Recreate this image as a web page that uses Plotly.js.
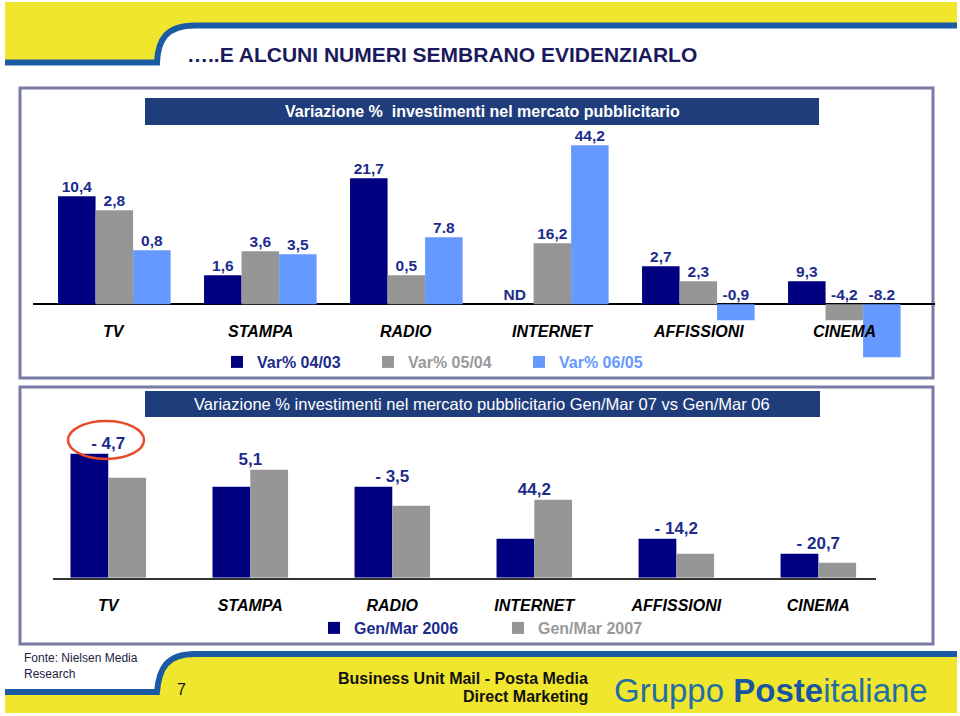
<!DOCTYPE html>
<html>
<head>
<meta charset="utf-8">
<script src="https://cdn.plot.ly/plotly-3.0.1.min.js"></script>
<style>
html,body{margin:0;padding:0;background:#fff;}
#chart{width:960px;height:716px;}
</style>
</head>
<body>
<div id="chart"></div>
<script>
// ---------- DATA ----------
const categories = ['TV', 'STAMPA', 'RADIO', 'INTERNET', 'AFFISSIONI', 'CINEMA'];

// Top chart: bar heights as drawn in the slide (relative units), and their printed labels
const topSeriesNames = ['Var% 04/03', 'Var% 05/04', 'Var% 06/05'];
const var0403 = [10.8, 2.9, 12.6, 0, 3.8, 2.3];
const var0504 = [9.4, 5.3, 2.9, 6.1, 2.3, -1.6];
const var0605 = [5.4, 5.0, 6.7, 15.9, -1.6, -5.3];
const lbl0403 = ['10,4', '1,6', '21,7', 'ND', '2,7', '9,3'];
const lbl0504 = ['2,8', '3,6', '0,5', '16,2', '2,3', '-4,2'];
const lbl0605 = ['0,8', '3,5', '7.8', '44,2', '-0,9', '-8.2'];

// Bottom chart: bar heights as drawn (relative units) and the printed % change
const bottomSeriesNames = ['Gen/Mar 2006', 'Gen/Mar 2007'];
const gm2006 = [12.4, 9.1, 9.1, 3.9, 3.9, 2.4];
const gm2007 = [10.0, 10.8, 7.2, 7.8, 2.4, 1.5];
const varLabels = ['- 4,7', '5,1', '- 3,5', '44,2', '- 14,2', '- 20,7'];

// ---------- STYLE ----------
const W = 960, H = 716;
const px = x => x / W;
const py = y => 1 - y / H;
const FONT = 'Liberation Sans, Arial, sans-serif';
const NAVY = '#000080', GRAY = '#969696', LIGHT = '#6699ff';
const LABEL = '#1c2c8c';
const YELLOW = '#f1e62e', BLUE = '#1b5ba3';

const topColors = [NAVY, GRAY, LIGHT];
const topTextColors = [LABEL, '#999999', LIGHT];
const topVals = [var0403, var0504, var0605];
const topLbls = [lbl0403, lbl0504, lbl0605];
const wTop = 0.257;

const traces = [];
topVals.forEach((vals, j) => {
  const xs = categories.map((c, i) => i + (j - 1) * wTop);
  traces.push({
    type: 'bar', x: xs, y: vals, width: wTop,
    marker: {color: topColors[j]},
    name: '<span style="color:' + topTextColors[j] + '">' + topSeriesNames[j] + '</span>',
    xaxis: 'x', yaxis: 'y', legend: 'legend', hoverinfo: 'skip'
  });
});
topVals.forEach((vals, j) => {
  const xs = categories.map((c, i) => i + (j - 1) * wTop);
  traces.push({
    type: 'scatter', mode: 'text', x: xs, y: vals.map(v => Math.max(v, 0)),
    text: topLbls[j], textposition: 'top center',
    textfont: {family: FONT, size: 15.5, color: LABEL, weight: 'bold'},
    cliponaxis: false, showlegend: false, hoverinfo: 'skip',
    xaxis: 'x', yaxis: 'y'
  });
});

const wBot = 0.266;
const botVals = [gm2006, gm2007];
const botColors = [NAVY, GRAY];
const botTextColors = [LABEL, '#999999'];
botVals.forEach((vals, j) => {
  const xs = categories.map((c, i) => i + (j - 0.5) * wBot);
  traces.push({
    type: 'bar', x: xs, y: vals, width: wBot,
    marker: {color: botColors[j]},
    name: '<span style="color:' + botTextColors[j] + '">' + bottomSeriesNames[j] + '</span>',
    xaxis: 'x2', yaxis: 'y2', legend: 'legend2', hoverinfo: 'skip'
  });
});
traces.push({
  type: 'scatter', mode: 'text', x: categories.map((c, i) => i),
  y: gm2006.map((v, i) => Math.max(v, gm2007[i])),
  text: varLabels, textposition: 'top center',
  textfont: {family: FONT, size: 17, color: LABEL, weight: 'bold'},
  cliponaxis: false, showlegend: false, hoverinfo: 'skip',
  xaxis: 'x2', yaxis: 'y2'
});

// ---------- DECORATION ----------
function path(pts) { // pixel coords -> paper coords
  return pts.replace(/(-?\d+(?:\.\d+)?),(-?\d+(?:\.\d+)?)/g,
    (m, a, b) => px(+a).toFixed(5) + ',' + py(+b).toFixed(5));
}
const shapes = [
  // header
  {type: 'path', xref: 'paper', yref: 'paper', layer: 'below',
   path: path('M5,2 L957,2 L957,23 L195,23 C166,23 158,38 157,61 L5,61 Z'),
   fillcolor: YELLOW, line: {width: 0}},
  {type: 'path', xref: 'paper', yref: 'paper', layer: 'below',
   path: path('M5,62.5 L157,62.5 C158,40 166,25.5 195,25.5 L957,25.5'),
   fillcolor: 'rgba(0,0,0,0)', line: {color: BLUE, width: 6}},
  // footer
  {type: 'path', xref: 'paper', yref: 'paper', layer: 'below',
   path: path('M5,713 L5,692 L157,692 C159,668 167,654 195,654 L957,654 L957,713 Z'),
   fillcolor: YELLOW, line: {width: 0}},
  {type: 'path', xref: 'paper', yref: 'paper', layer: 'below',
   path: path('M5,692 L157,692 C159,668 167,654 195,654 L957,654'),
   fillcolor: 'rgba(0,0,0,0)', line: {color: BLUE, width: 6}},
  // frames
  {type: 'rect', xref: 'paper', yref: 'paper', layer: 'below',
   x0: px(20), x1: px(933), y0: py(88), y1: py(378),
   line: {color: '#7a7aa6', width: 3}, fillcolor: 'rgba(0,0,0,0)'},
  {type: 'rect', xref: 'paper', yref: 'paper', layer: 'below',
   x0: px(20), x1: px(933), y0: py(387), y1: py(644),
   line: {color: '#7a7aa6', width: 3}, fillcolor: 'rgba(0,0,0,0)'},
  // banners
  {type: 'rect', xref: 'paper', yref: 'paper', layer: 'below',
   x0: px(145), x1: px(819), y0: py(98), y1: py(125),
   line: {width: 0}, fillcolor: '#1f3d7b'},
  {type: 'rect', xref: 'paper', yref: 'paper', layer: 'below',
   x0: px(145), x1: px(820), y0: py(391), y1: py(417),
   line: {width: 0}, fillcolor: '#1f3d7b'},
  // red highlight ellipse
  {type: 'circle', xref: 'paper', yref: 'paper', layer: 'above',
   x0: px(68), x1: px(144), y0: py(421), y1: py(459),
   line: {color: '#e84a2a', width: 2.5}, fillcolor: 'rgba(0,0,0,0)'}
];

const annotations = [
  {xref: 'paper', yref: 'paper', x: px(185), y: py(54), xanchor: 'left', yanchor: 'middle',
   text: '<b>…..E ALCUNI NUMERI SEMBRANO EVIDENZIARLO</b>', showarrow: false,
   font: {family: FONT, size: 21, color: '#1a1a5c'}},
  {xref: 'paper', yref: 'paper', x: px(482), y: py(111.5), xanchor: 'center', yanchor: 'middle',
   text: '<b>Variazione %  investimenti nel mercato pubblicitario</b>', showarrow: false,
   font: {family: FONT, size: 16, color: '#ffffff'}},
  {xref: 'paper', yref: 'paper', x: px(482), y: py(404), xanchor: 'center', yanchor: 'middle',
   text: 'Variazione % investimenti nel mercato pubblicitario Gen/Mar 07 vs Gen/Mar 06', showarrow: false,
   font: {family: FONT, size: 16.5, color: '#ffffff'}},
  {xref: 'paper', yref: 'paper', x: px(22), y: py(658), xanchor: 'left', yanchor: 'middle',
   text: 'Fonte: Nielsen Media', showarrow: false, font: {family: FONT, size: 12, color: '#222244'}},
  {xref: 'paper', yref: 'paper', x: px(22), y: py(674), xanchor: 'left', yanchor: 'middle',
   text: 'Research', showarrow: false, font: {family: FONT, size: 12, color: '#222244'}},
  {xref: 'paper', yref: 'paper', x: px(181), y: py(689), xanchor: 'center', yanchor: 'middle',
   text: '7', showarrow: false, font: {family: FONT, size: 16, color: '#111111'}},
  {xref: 'paper', yref: 'paper', x: px(590), y: py(678), xanchor: 'right', yanchor: 'middle',
   text: '<b>Business Unit Mail - Posta Media</b>', showarrow: false,
   font: {family: FONT, size: 16, color: '#111111'}},
  {xref: 'paper', yref: 'paper', x: px(590), y: py(696.5), xanchor: 'right', yanchor: 'middle',
   text: '<b>Direct Marketing</b>', showarrow: false,
   font: {family: FONT, size: 16, color: '#111111'}},
  {xref: 'paper', yref: 'paper', x: px(612), y: py(690), xanchor: 'left', yanchor: 'middle',
   text: 'Gruppo <b><span style="color:#1a56a0">Poste</span></b>italiane', showarrow: false,
   font: {family: FONT, size: 33, color: '#1f6fa6'}}
];
// top chart category labels (drawn over the bars, as in the slide)
categories.forEach((c, i) => {
  annotations.push({xref: 'x', yref: 'paper', x: i, y: py(331.5), xanchor: 'center', yanchor: 'middle',
    text: '<b><i>' + c + '</i></b>', showarrow: false,
    font: {family: FONT, size: 16, color: '#000000'}});
});

const layout = {
  width: W, height: H,
  margin: {l: 0, r: 0, t: 0, b: 0, pad: 0},
  paper_bgcolor: '#ffffff', plot_bgcolor: 'rgba(0,0,0,0)',
  barmode: 'overlay',
  showlegend: true,
  xaxis: {domain: [px(33), px(935)], range: [-0.557, 5.621], showgrid: false, zeroline: false,
          showticklabels: false, showline: false, fixedrange: true},
  yaxis: {domain: [py(370), py(130)], range: [-6.57, 17.43], showgrid: false, showticklabels: false,
          zeroline: true, zerolinecolor: '#000000', zerolinewidth: 2, fixedrange: true},
  xaxis2: {anchor: 'y2', domain: [px(53.3), px(876)], range: [-0.387, 5.406],
           tickmode: 'array', tickvals: categories.map((c, i) => i), ticktext: categories,
           showgrid: false, zeroline: false, showline: true, linecolor: '#333333', linewidth: 2,
           ticks: '', ticklabelstandoff: 12,
           tickfont: {family: FONT, size: 16, color: '#000000', weight: 'bold', style: 'italic'},
           fixedrange: true},
  yaxis2: {anchor: 'x2', domain: [py(577.7), py(425)], range: [0, 15.27], showgrid: false,
           showticklabels: false, zeroline: false, fixedrange: true},
  legend: {orientation: 'h', x: px(217), xanchor: 'left', y: py(362), yanchor: 'middle',
           entrywidth: 106, entrywidthmode: 'pixels', bgcolor: 'rgba(0,0,0,0)',
           font: {family: FONT, size: 16, color: LABEL, weight: 'bold'}, itemclick: false, itemdoubleclick: false},
  legend2: {orientation: 'h', x: px(314), xanchor: 'left', y: py(628), yanchor: 'middle',
            entrywidth: 139, entrywidthmode: 'pixels', bgcolor: 'rgba(0,0,0,0)',
            font: {family: FONT, size: 16, color: LABEL, weight: 'bold'}, itemclick: false, itemdoubleclick: false},
  shapes: shapes,
  annotations: annotations
};

Plotly.newPlot('chart', traces, layout, {displayModeBar: false, staticPlot: true});
</script>
</body>
</html>
